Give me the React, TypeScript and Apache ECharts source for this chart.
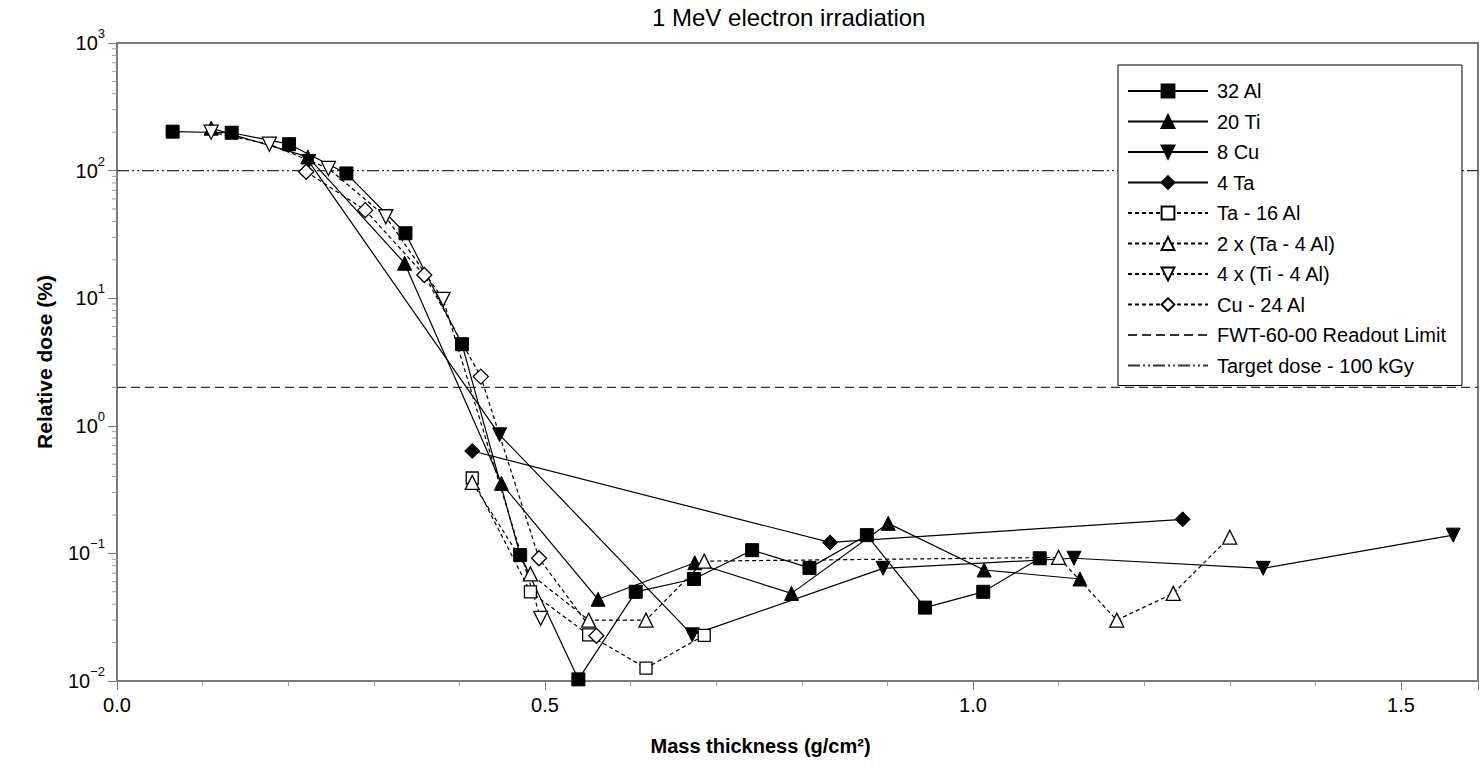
import React, { useEffect, useRef } from "react";
import * as echarts from "echarts";

// ---- axis ranges ----
const X_MIN = 0;
const X_MAX = 1.59;
const Y_MIN = 0.01;
const Y_MAX = 1000;

// ---- series data: [mass thickness (g/cm²), relative dose (%)] ----
const al32 = [
  [0.065, 202], [0.134, 198], [0.201, 161], [0.268, 95], [0.337, 32.3],
  [0.403, 4.36], [0.471, 0.097], [0.539, 0.0103], [0.606, 0.05], [0.674, 0.063],
  [0.742, 0.106], [0.809, 0.077], [0.876, 0.139], [0.944, 0.0376], [1.012, 0.05],
  [1.078, 0.0916],
];
const ti20 = [
  [0.11, 215], [0.223, 128], [0.336, 18.8], [0.449, 0.354], [0.562, 0.0437],
  [0.675, 0.0845], [0.788, 0.0486], [0.901, 0.172], [1.013, 0.0741], [1.125, 0.063],
];
const cu8 = [
  [0.224, 118], [0.447, 0.85], [0.672, 0.023], [0.895, 0.0764], [1.118, 0.0916],
  [1.339, 0.0764], [1.561, 0.139],
];
const ta4 = [[0.415, 0.635], [0.833, 0.122], [1.245, 0.185]];
const ta16al = [[0.415, 0.39], [0.483, 0.05], [0.551, 0.023], [0.618, 0.0126], [0.686, 0.0228]];
const ta4al2 = [
  [0.415, 0.36], [0.483, 0.069], [0.551, 0.03], [0.618, 0.03], [0.686, 0.087],
  [1.1, 0.093], [1.168, 0.03], [1.234, 0.0486], [1.3, 0.134],
];
const ti4al4 = [[0.11, 200], [0.178, 161], [0.247, 104], [0.314, 43.5], [0.381, 9.8], [0.495, 0.031]];
const cu24al = [[0.221, 98], [0.29, 49], [0.359, 15.2], [0.425, 2.43], [0.493, 0.0916], [0.56, 0.0226]];

const readoutLimit = 2;
const targetDose = 100;

// ---- log-axis minor tick positions ----
const decades = [0.01, 0.1, 1, 10, 100];
const mantissas = [2, 3, 4, 5, 6, 7, 8, 9];

const FONT = "'Liberation Sans', Arial, Helvetica, sans-serif";

function solidSeries(name: string, data: number[][], symbol: string, rotate = 0, size = 13) {
  return {
    name,
    type: "line",
    data,
    symbol,
    symbolSize: size,
    symbolRotate: rotate,
    lineStyle: { color: "#000", width: 1.2, type: "solid" },
    itemStyle: { color: "#000", borderColor: "#000", borderWidth: 1 },
    z: 3,
  };
}

function openSeries(name: string, data: number[][], symbol: string, rotate = 0, size = 13) {
  return {
    name,
    type: "line",
    data,
    symbol,
    symbolSize: size,
    symbolRotate: rotate,
    lineStyle: { color: "#000", width: 1.2, type: [4, 3] },
    itemStyle: { color: "#fff", borderColor: "#000", borderWidth: 1.3 },
    z: 3,
  };
}

function refLine(name: string, value: number, dash: number[]) {
  return {
    name,
    type: "line",
    data: [[X_MIN, value], [X_MAX, value]],
    symbol: "circle",
    symbolSize: 0,
    showSymbol: false,
    lineStyle: { color: "#333", width: 1.3, type: dash },
    itemStyle: { color: "rgba(0,0,0,0)", borderColor: "rgba(0,0,0,0)", borderWidth: 0 },
    z: 2,
  };
}

export default function App() {
  const ref = useRef<HTMLDivElement>(null);

  useEffect(() => {
    if (!ref.current) return;
    const chart = echarts.init(ref.current, null, { renderer: "svg" });

    const minorTicks: number[][] = [];
    decades.forEach((d) => mantissas.forEach((m) => minorTicks.push([X_MIN, m * d])));

    const names = [
      "32 Al", "20 Ti", "8 Cu", "4 Ta", "Ta - 16 Al", "2 x (Ta - 4 Al)",
      "4 x (Ti - 4 Al)", "Cu - 24 Al", "FWT-60-00 Readout Limit", "Target dose - 100 kGy",
    ];

    const option: any = {
      animation: false,
      backgroundColor: "#fff",
      textStyle: { fontFamily: FONT },
      graphic: [
        {
          type: "text",
          left: 652,
          top: 5,
          style: { text: "1 MeV electron irradiation", fontSize: 24, fontFamily: FONT, fill: "#000" },
        },
      ],
      grid: {
        left: 117,
        right: 4,
        top: 43,
        bottom: 90,
        show: true,
        borderColor: "#7a7a7a",
        borderWidth: 2,
        backgroundColor: "transparent",
      },
      legend: {
        orient: "vertical",
        left: 1118,
        top: 65,
        data: names,
        itemWidth: 80,
        itemHeight: 16,
        itemGap: 10.5,
        padding: [16, 16, 10, 9],
        backgroundColor: "#fff",
        borderColor: "#000",
        borderWidth: 1,
        borderRadius: 0,
        textStyle: { fontSize: 20, fontFamily: FONT, color: "#000", padding: [0, 0, 0, 4] },
      },
      xAxis: {
        type: "value",
        min: X_MIN,
        max: X_MAX,
        interval: 0.5,
        name: "Mass thickness (g/cm²)",
        nameLocation: "middle",
        nameGap: 55,
        nameTextStyle: { fontSize: 20, fontWeight: "bold", fontFamily: FONT, color: "#000", padding: [0, 74, 0, 0] },
        axisLine: { lineStyle: { color: "#7a7a7a", width: 2 } },
        axisTick: { show: true, inside: false, length: 9, lineStyle: { color: "#7a7a7a", width: 1 } },
        minorTick: { show: true, splitNumber: 5, length: 5, lineStyle: { color: "#9a9a9a", width: 1 } },
        splitLine: { show: false },
        axisLabel: {
          fontSize: 20,
          color: "#000",
          fontFamily: FONT,
          margin: 14,
          showMaxLabel: false,
          formatter: (v: number) => (Math.abs(v / 0.5 - Math.round(v / 0.5)) < 1e-6 ? v.toFixed(1) : ""),
        },
      },
      yAxis: {
        type: "log",
        logBase: 10,
        min: Y_MIN,
        max: Y_MAX,
        name: "Relative dose (%)",
        nameLocation: "middle",
        nameGap: 62,
        nameTextStyle: { fontSize: 21, fontWeight: "bold", fontFamily: FONT, color: "#000" },
        axisLine: { show: true, lineStyle: { color: "#7a7a7a", width: 2 } },
        axisTick: { show: true, inside: false, length: 9, lineStyle: { color: "#7a7a7a", width: 1 } },
        splitLine: { show: false },
        axisLabel: {
          margin: 12,
          color: "#000",
          formatter: (v: number) => {
            const e = Math.round(Math.log10(v));
            return "{b|10}{s|" + (e < 0 ? "\u2212" + -e : String(e)) + "}";
          },
          rich: {
            b: { fontSize: 20, fontFamily: FONT, color: "#000", lineHeight: 32 },
            s: { fontSize: 13, fontFamily: FONT, color: "#000", lineHeight: 32, verticalAlign: "top" },
          },
        },
      },
      series: [
        {
          name: "minor-ticks",
          type: "custom",
          silent: true,
          clip: false,
          data: minorTicks,
          encode: { x: 0, y: 1 },
          renderItem: (_p: any, api: any) => {
            const pt = api.coord([api.value(0), api.value(1)]);
            return {
              type: "line",
              shape: { x1: pt[0] - 5, y1: pt[1], x2: pt[0], y2: pt[1] },
              style: { stroke: "#9a9a9a", lineWidth: 1 },
            };
          },
          z: 1,
        },
        refLine("FWT-60-00 Readout Limit", readoutLimit, [9, 5]),
        refLine("Target dose - 100 kGy", targetDose, [12, 3, 2, 3, 2, 3]),
        solidSeries("32 Al", al32, "rect", 0, 13),
        solidSeries("20 Ti", ti20, "triangle", 0, 14),
        solidSeries("8 Cu", cu8, "triangle", 180, 14),
        solidSeries("4 Ta", ta4, "diamond", 0, 15),
        openSeries("Ta - 16 Al", ta16al, "rect", 0, 12),
        openSeries("2 x (Ta - 4 Al)", ta4al2, "triangle", 0, 14),
        openSeries("4 x (Ti - 4 Al)", ti4al4, "triangle", 180, 14),
        openSeries("Cu - 24 Al", cu24al, "diamond", 0, 15),
      ],
    };

    chart.setOption(option);
    return () => chart.dispose();
  }, []);

  return (
    <div
      ref={ref}
      style={{ position: "fixed", left: 0, top: 0, width: 1482, height: 771, background: "#fff" }}
    />
  );
}
